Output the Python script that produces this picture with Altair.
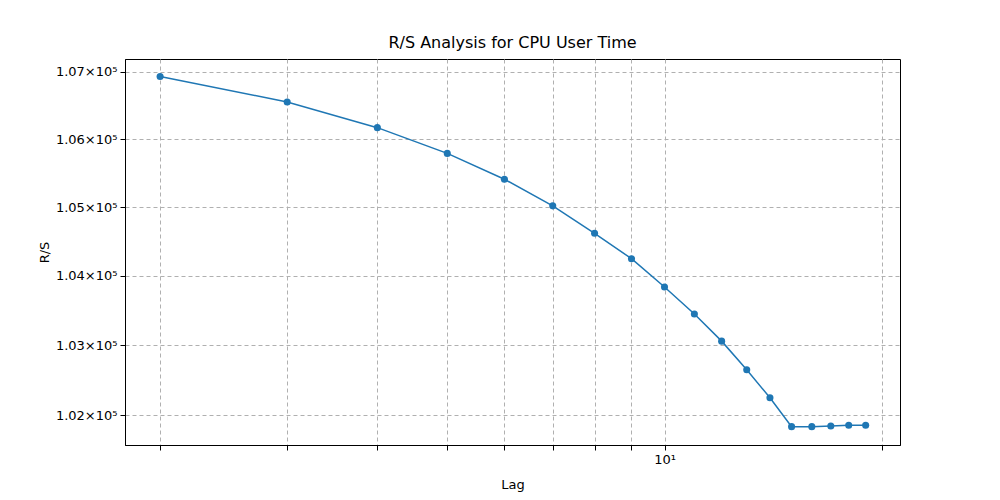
import altair as alt
import pandas as pd

lags = [2, 3, 4, 5, 6, 7, 8, 9, 10, 11, 12, 13, 14, 15, 16, 17, 18, 19]
rs = [106930, 106550, 106170, 105790, 105410, 105020, 104620, 104250, 103840,
      103450, 103060, 102650, 102250, 101840, 101840, 101850, 101860, 101860]

x_ticks = [2, 3, 4, 5, 6, 7, 8, 9, 10, 20]
y_ticks = [102000, 103000, 104000, 105000, 106000, 107000]

df = pd.DataFrame({'Lag': lags, 'R/S': rs})

x = alt.X('Lag:Q', title='Lag',
          scale=alt.Scale(type='log', domain=[1.788, 21.2], nice=False),
          axis=alt.Axis(values=x_ticks, grid=True, gridDash=[4, 3], gridColor='#b0b0b0',
                        labelExpr="datum.value == 10 ? '10¹' : ''", titlePadding=12))
y = alt.Y('R/S:Q', title='R/S',
          scale=alt.Scale(type='log', domain=[101580, 107190], nice=False, zero=False),
          axis=alt.Axis(values=y_ticks, grid=True, gridDash=[4, 3], gridColor='#b0b0b0',
                        labelExpr="format(datum.value / 100000, '.2f') + '×10⁵'"))

line = alt.Chart(df).mark_line(color='#1f77b4', strokeWidth=1.5).encode(x=x, y=y)
pts = alt.Chart(df).mark_point(filled=True, size=50, opacity=1, color='#1f77b4').encode(x=x, y=y)

chart = (line + pts).properties(
    width=775, height=386,
    title=alt.TitleParams('R/S Analysis for CPU User Time', fontSize=16, fontWeight='normal', offset=8),
    autosize=alt.AutoSizeParams(type='none'),
    padding={'left': 117, 'top': 51, 'right': 10, 'bottom': 60},
).configure_axis(
    labelFont='DejaVu Sans', titleFont='DejaVu Sans', labelFontSize=13, titleFontSize=13,
    titleFontWeight='normal', domainColor='black', tickColor='black', labelColor='black',
    tickSize=5, labelPadding=3
).configure_title(font='DejaVu Sans', color='black').configure_view(stroke='black')

chart.save("out.html", embed_options={"renderer": "svg", "actions": False})
